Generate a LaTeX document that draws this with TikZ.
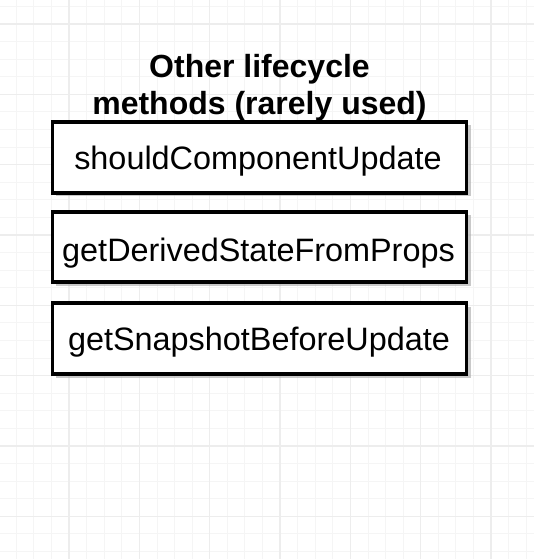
\documentclass[tikz,border=0pt]{standalone}
\usepackage{fontspec}
\setmainfont{Liberation Sans}
\begin{document}
\begin{tikzpicture}[x=0.75pt,y=-0.75pt,
  minorgrid/.style={draw=black!4,line width=0.6pt},
  majorgrid/.style={draw=black!7,line width=0.8pt},
  methodbox/.style={draw=black,line width=2.3pt,fill=white,minimum width=414*0.75pt,minimum height=70*0.75pt,inner sep=0pt},
  shadowbox/.style={fill=black!35,opacity=0.6,draw=none},
  labeltext/.style={anchor=base,inner sep=0pt,font=\fontsize{24.3}{28}\selectfont},
  titletext/.style={font=\bfseries\fontsize{24}{28}\selectfont,anchor=base,inner sep=0pt}]
\useasboundingbox (0,0) rectangle (534,559);
\fill[white] (0,0) rectangle (534,559);
% grid
\foreach \i in {0,...,31} {
  \pgfmathsetmacro{\gx}{-1.3+\i*17.583}
  \draw[minorgrid] (\gx,0) -- (\gx,559);
}
\foreach \i in {0,...,32} {
  \pgfmathsetmacro{\gy}{-11.2+\i*17.583}
  \draw[minorgrid] (0,\gy) -- (534,\gy);
}
\foreach \i in {0,...,8} {
  \pgfmathsetmacro{\gx}{-1.3+\i*70.33}
  \draw[majorgrid] (\gx,0) -- (\gx,559);
}
\foreach \i in {0,...,8} {
  \pgfmathsetmacro{\gy}{24+\i*70.33}
  \draw[majorgrid] (0,\gy) -- (534,\gy);
}
% title
\node[titletext] (t1) at (259.5,78) {Other lifecycle};
\node[titletext] (t2) at (259.5,115) {methods (rarely used)};
% shadows
\fill[shadowbox] (55.5,125.5) rectangle (470.5,196.5);
\fill[shadowbox] (55.5,215.5) rectangle (470.5,285.5);
\fill[shadowbox] (55.5,306.5) rectangle (470.5,377.5);
% boxes
\node[methodbox,minimum height=71*0.75pt] (b1) at (259.5,157.5) {};
\node[methodbox] (b2) at (259.5,247) {};
\node[methodbox,minimum height=71*0.75pt] (b3) at (259.5,338.5) {};
\node[labeltext] (l1) at (258,170) {shouldComponentUpdate};
\node[labeltext] (l2) at (258.5,262) {getDerivedStateFromProps};
\node[labeltext] (l3) at (259,350) {getSnapshotBeforeUpdate};
\end{tikzpicture}
\end{document}
